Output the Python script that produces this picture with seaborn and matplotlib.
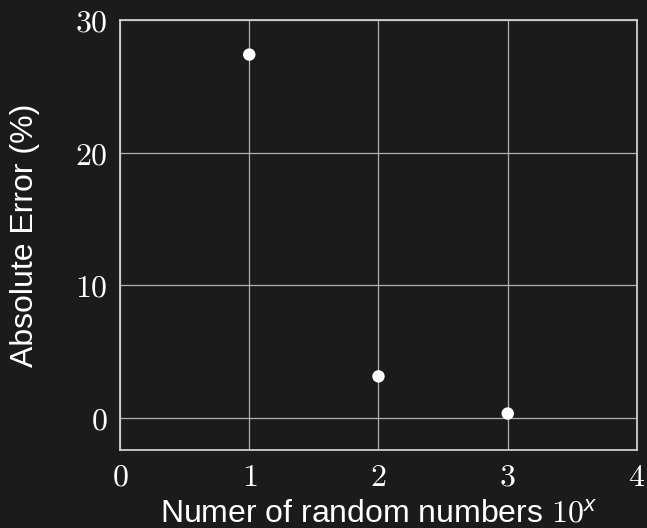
import numpy as np
import pandas as pd
import seaborn as sns
import matplotlib.pyplot as plt

# exponent of the sample size (10^x) and the absolute error in %
exponent = [1, 2, 3]
abs_error = [27.4, 3.15, 0.35]

df = pd.DataFrame({'exponent': exponent, 'abs_error': abs_error})

bg = '#1b1b1b'
sns.set_theme(style='darkgrid', rc={
    'figure.facecolor': bg,
    'axes.facecolor': bg,
    'axes.edgecolor': '#cfcfcf',
    'axes.linewidth': 1.3,
    'grid.color': '#b0b0b0',
    'grid.linewidth': 0.9,
    'text.color': 'white',
    'axes.labelcolor': 'white',
    'xtick.color': 'white',
    'ytick.color': 'white',
    'xtick.bottom': False,
    'ytick.left': False,
})
plt.rcParams['font.family'] = ['Liberation Sans', 'DejaVu Sans']
plt.rcParams['mathtext.fontset'] = 'custom'
plt.rcParams['mathtext.rm'] = 'cmr10'
plt.rcParams['mathtext.it'] = 'Liberation Sans:italic'

fig = plt.figure(figsize=(6.47, 5.28), dpi=100)
ax = fig.add_axes([0.1855, 0.1477, 0.799, 0.8143])

sns.scatterplot(data=df, x='exponent', y='abs_error', color='white',
                s=80, edgecolor='none', ax=ax, zorder=3)

ax.set_xlim(0, 4)
ax.set_ylim(-2.4, 30)
ax.set_xticks([0, 1, 2, 3, 4])
ax.set_yticks([0, 10, 20, 30])
ax.set_xticklabels([f'$\\mathrm{{{v}}}$' for v in [0, 1, 2, 3, 4]], fontsize=23)
ax.set_yticklabels([f'$\\mathrm{{{v}}}$' for v in [0, 10, 20, 30]], fontsize=23)
ax.tick_params(axis='x', pad=3)
ax.tick_params(axis='y', pad=3)

ax.set_xlabel('Numer of random numbers $\\mathrm{10}^{x}$', fontsize=23)
ax.set_ylabel('Absolute Error (%)', fontsize=23)
ax.xaxis.set_label_coords(0.5, -0.115)
ax.yaxis.set_label_coords(-0.155, 0.5)

for s in ax.spines.values():
    s.set_visible(True)

fig.savefig('out.png', dpi=100, facecolor=bg)
